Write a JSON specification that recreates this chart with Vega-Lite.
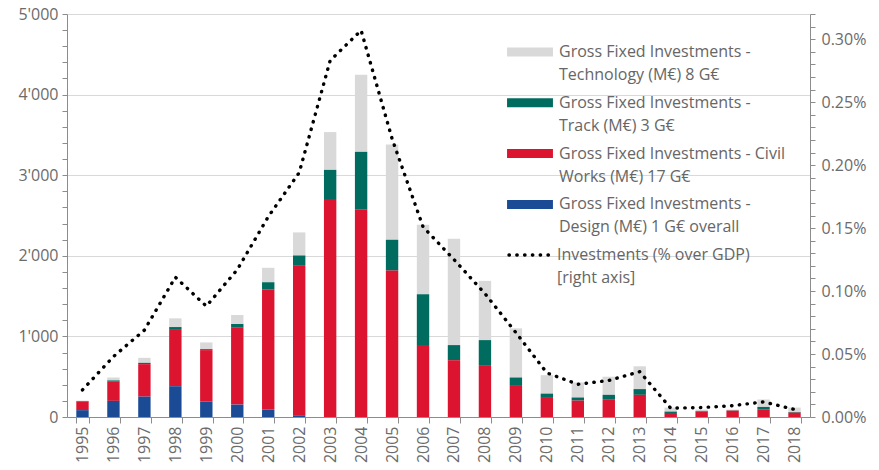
{
  "$schema": "https://vega.github.io/schema/vega-lite/v6.json",
  "width": 743,
  "height": 403,
  "autosize": {"type": "none"},
  "padding": {"left": 67, "top": 14, "right": 69, "bottom": 53},
  "background": "white",
  "config": {
    "view": {"stroke": null},
    "font": "Open Sans",
    "axis": {
      "labelFont": "Open Sans",
      "labelFontSize": 16,
      "labelColor": "#6b6b6b",
      "domainColor": "#8c8c8c",
      "tickColor": "#8c8c8c",
      "gridColor": "#d9d9d9",
      "title": null
    },
    "legend": {
      "labelFont": "Open Sans",
      "labelFontSize": 16,
      "labelColor": "#666666",
      "padding": 0,
      "labelLimit": 400
    }
  },
  "data": {
    "values": [
      {"year": "1995", "Design": 85, "Civil Works": 110, "Track": 3, "Technology": 5, "pct": 0.000215},
      {"year": "1996", "Design": 200, "Civil Works": 244, "Track": 10, "Technology": 36, "pct": 0.00048},
      {"year": "1997", "Design": 253, "Civil Works": 403, "Track": 16, "Technology": 62, "pct": 0.00069},
      {"year": "1998", "Design": 382, "Civil Works": 709, "Track": 25, "Technology": 108, "pct": 0.00111},
      {"year": "1999", "Design": 191, "Civil Works": 639, "Track": 12, "Technology": 83, "pct": 0.00088},
      {"year": "2000", "Design": 154, "Civil Works": 958, "Track": 42, "Technology": 112, "pct": 0.00117},
      {"year": "2001", "Design": 95, "Civil Works": 1486, "Track": 91, "Technology": 179, "pct": 0.00159},
      {"year": "2002", "Design": 17, "Civil Works": 1859, "Track": 128, "Technology": 286, "pct": 0.00194},
      {"year": "2003", "Design": 0, "Civil Works": 2705, "Track": 361, "Technology": 469, "pct": 0.00283},
      {"year": "2004", "Design": 0, "Civil Works": 2573, "Track": 717, "Technology": 955, "pct": 0.00307},
      {"year": "2005", "Design": 0, "Civil Works": 1817, "Track": 382, "Technology": 1183, "pct": 0.00221},
      {"year": "2006", "Design": 0, "Civil Works": 892, "Track": 631, "Technology": 863, "pct": 0.00151},
      {"year": "2007", "Design": 0, "Civil Works": 705, "Track": 187, "Technology": 1320, "pct": 0.00125},
      {"year": "2008", "Design": 0, "Civil Works": 635, "Track": 319, "Technology": 735, "pct": 0.00098},
      {"year": "2009", "Design": 0, "Civil Works": 386, "Track": 104, "Technology": 610, "pct": 0.00067},
      {"year": "2010", "Design": 0, "Civil Works": 237, "Track": 53, "Technology": 229, "pct": 0.00035},
      {"year": "2011", "Design": 0, "Civil Works": 204, "Track": 38, "Technology": 187, "pct": 0.00026},
      {"year": "2012", "Design": 0, "Civil Works": 221, "Track": 54, "Technology": 225, "pct": 0.00029},
      {"year": "2013", "Design": 0, "Civil Works": 275, "Track": 71, "Technology": 283, "pct": 0.00036},
      {"year": "2014", "Design": 0, "Civil Works": 50, "Track": 17, "Technology": 50, "pct": 0.00007},
      {"year": "2015", "Design": 0, "Civil Works": 67, "Track": 8, "Technology": 17, "pct": 0.000075},
      {"year": "2016", "Design": 0, "Civil Works": 79, "Track": 4, "Technology": 9, "pct": 0.00009},
      {"year": "2017", "Design": 0, "Civil Works": 96, "Track": 29, "Technology": 92, "pct": 0.00012},
      {"year": "2018", "Design": 0, "Civil Works": 54, "Track": 8, "Technology": 55, "pct": 0.00006}
    ]
  },
  "layer": [
    {
      "transform": [
        {"fold": ["Technology", "Track", "Civil Works", "Design"], "as": ["component", "value"]},
        {"calculate": "indexof(['Design','Civil Works','Track','Technology'], datum.component)", "as": "ord"}
      ],
      "mark": {"type": "bar"},
      "encoding": {
        "x": {
          "field": "year",
          "type": "nominal",
          "scale": {"paddingInner": 0.6, "paddingOuter": 0.3},
          "axis": {
            "labelAngle": -90,
            "labelAlign": "right",
            "labelBaseline": "middle",
            "tickBand": "extent",
            "tickSize": 6,
            "labelPadding": 3,
            "grid": false
          }
        },
        "y": {
          "field": "value",
          "type": "quantitative",
          "stack": "zero",
          "scale": {"domain": [0, 5000], "nice": false},
          "axis": {
            "values": [0,200,400,600,800,1000,1200,1400,1600,1800,2000,2200,2400,2600,2800,3000,3200,3400,3600,3800,4000,4200,4400,4600,4800,5000],
            "labelExpr": "datum.value % 1000 == 0 ? (datum.value == 0 ? '0' : replace(format(datum.value, ','), ',', \"'\")) : ''",
            "tickSize": 5,
            "labelPadding": 4,
            "grid": true,
            "gridOpacity": {"condition": {"test": "datum.value % 1000 == 0 && datum.value > 0", "value": 1}, "value": 0},
            "labelOverlap": false
          }
        },
        "color": {
          "field": "component",
          "type": "nominal",
          "scale": {
            "domain": ["Technology", "Track", "Civil Works", "Design"],
            "range": ["#d9d9d9", "#006b5f", "#dc1430", "#1c4b96"]
          },
          "legend": {
            "title": null,
            "orient": "none",
            "legendX": 448,
            "legendY": 23,
            "symbolType": "M-1.53,-0.3H1.53V0.3H-1.53Z",
            "symbolSize": 900,
            "symbolStrokeWidth": 0,
            "labelOffset": 14,
            "rowPadding": 4.8,
            "labelExpr": "datum.label == 'Technology' ? ['Gross Fixed Investments -', 'Technology (M€) 8 G€'] : datum.label == 'Track' ? ['Gross Fixed Investments -', 'Track (M€) 3 G€'] : datum.label == 'Civil Works' ? ['Gross Fixed Investments - Civil', 'Works (M€) 17 G€'] : ['Gross Fixed Investments -', 'Design (M€) 1 G€ overall']",
            "encode": {"labels": {"update": {"lineHeight": {"value": 23}}}}
          }
        },
        "order": {"field": "ord", "type": "quantitative"}
      }
    },
    {
      "mark": {"type": "line", "color": "#000000", "strokeWidth": 3.4, "strokeCap": "round"},
      "encoding": {
        "x": {"field": "year", "type": "nominal"},
        "y": {
          "field": "pct",
          "type": "quantitative",
          "scale": {"domain": [0, 0.0032], "nice": false},
          "axis": {
            "orient": "right",
            "values": [0,0.0001,0.0002,0.0003,0.0004,0.0005,0.0006,0.0007,0.0008,0.0009,0.001,0.0011,0.0012,0.0013,0.0014,0.0015,0.0016,0.0017,0.0018,0.0019,0.002,0.0021,0.0022,0.0023,0.0024,0.0025,0.0026,0.0027,0.0028,0.0029,0.003,0.0031,0.0032],
            "labelExpr": "round(datum.value * 10000) % 5 == 0 && datum.value < 0.00315 ? format(datum.value, '.2%') : ''",
            "tickSize": 5,
            "labelPadding": 6,
            "grid": false,
            "labelOverlap": false
          }
        },
        "strokeDash": {
          "datum": "Investments",
          "scale": {"range": [[0.4, 7.4]]},
          "legend": {
            "title": null,
            "orient": "none",
            "legendX": 440,
            "legendY": 216,
            "symbolType": "M-1,0H1",
            "symbolSize": 2116,
            "symbolStrokeWidth": 3.4,
            "symbolStrokeColor": "#000000",
            "symbolFillColor": "transparent",
            "labelOffset": 0,
            "labelExpr": "['Investments (% over GDP)', '[right axis]']",
            "encode": {
              "labels": {"update": {"lineHeight": {"value": 23}}},
              "symbols": {"update": {"strokeCap": {"value": "round"}, "strokeDash": {"value": [0.4, 7.2]}}}
            }
          }
        }
      }
    }
  ],
  "resolve": {"scale": {"y": "independent"}}
}
